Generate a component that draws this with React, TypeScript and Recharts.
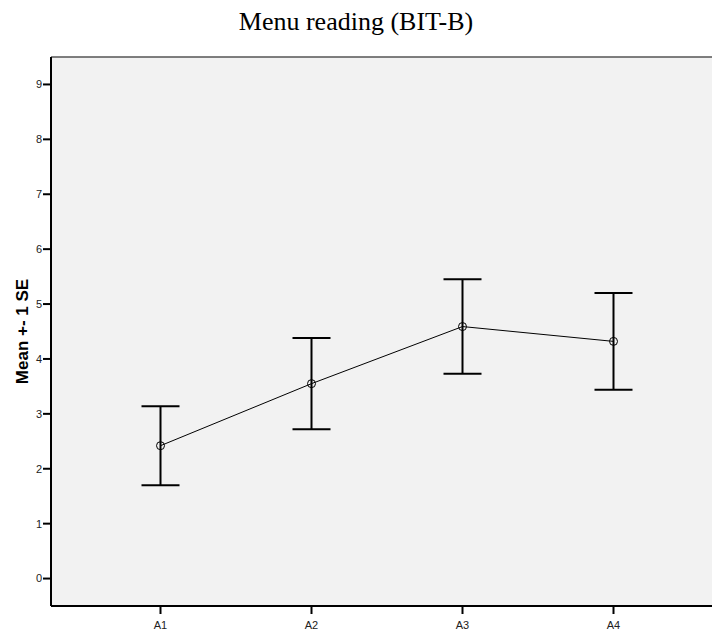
import {
  CartesianGrid,
  ErrorBar,
  Line,
  LineChart,
  ReferenceLine,
  XAxis,
  YAxis,
} from "recharts";

const groups = ["A1", "A2", "A3", "A4"];
const means = [2.42, 3.55, 4.59, 4.32];
const stdErrors = [0.72, 0.83, 0.86, 0.88];
const yTicks = [0, 1, 2, 3, 4, 5, 6, 7, 8, 9];

const data = groups.map((name, i) => ({
  name,
  mean: means[i],
  se: stdErrors[i],
}));

const SANS = "'Liberation Sans', Arial, sans-serif";

export default function App() {
  return (
    <div
      style={{
        position: "absolute",
        left: 0,
        top: 0,
        width: 712,
        height: 634,
        overflow: "hidden",
        background: "#fff",
      }}
    >
      <div
        style={{
          position: "absolute",
          left: 0,
          top: 9,
          width: 712,
          textAlign: "center",
          fontFamily: "'Liberation Serif', 'Times New Roman', serif",
          fontSize: 26,
          lineHeight: "26px",
          color: "#000",
        }}
      >
        Menu reading (BIT-B)
      </div>
      <LineChart
        width={723}
        height={634}
        data={data}
        margin={{ top: 57, right: 0, left: 0, bottom: 0 }}
      >
        <CartesianGrid
          fill="#f2f2f2"
          horizontal={false}
          vertical={false}
          stroke="none"
        />
        <ReferenceLine y={9.5} stroke="#555" strokeWidth={1.5} />
        <XAxis
          dataKey="name"
          type="category"
          padding={{ left: 109.5, right: 109.5 }}
          height={28}
          axisLine={{ stroke: "#000", strokeWidth: 2 }}
          tickLine={{ stroke: "#000", strokeWidth: 2 }}
          tickSize={8}
          tickMargin={7}
          tick={{ fill: "#222", fontSize: 11, fontFamily: SANS }}
        />
        <YAxis
          type="number"
          domain={[-0.5, 9.5]}
          ticks={yTicks}
          width={51}
          axisLine={{ stroke: "#000", strokeWidth: 2 }}
          tickLine={{ stroke: "#000", strokeWidth: 2 }}
          tickSize={8}
          tickMargin={1}
          tick={{ fill: "#222", fontSize: 11, fontFamily: SANS }}
          label={{
            value: "Mean +- 1 SE",
            angle: -90,
            position: "center",
            dx: -4,
            fill: "#000",
            fontSize: 17,
            fontWeight: "bold",
            fontFamily: SANS,
          }}
        />
        <Line
          dataKey="mean"
          stroke="#000"
          strokeWidth={1}
          isAnimationActive={false}
          dot={{ r: 4, fill: "none", stroke: "#000", strokeWidth: 1 }}
          activeDot={false}
        >
          <ErrorBar
            dataKey="se"
            direction="y"
            width={19}
            stroke="#000"
            strokeWidth={2}
            isAnimationActive={false}
          />
        </Line>
      </LineChart>
    </div>
  );
}
